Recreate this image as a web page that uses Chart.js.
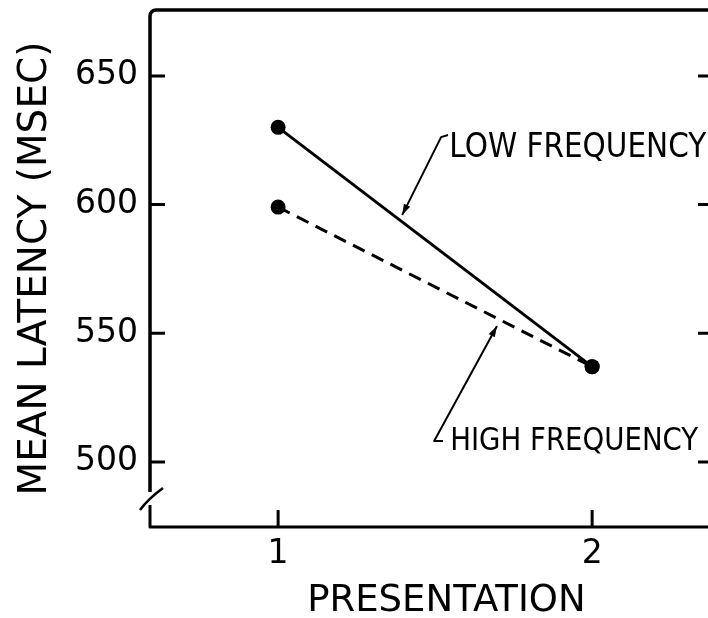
<!DOCTYPE html>
<html>
<head>
<meta charset="utf-8">
<script src="https://cdn.jsdelivr.net/npm/chart.js@4.4.1/dist/chart.umd.min.js"></script>
<style>
  html, body { margin: 0; padding: 0; background: #fff; overflow: hidden; }
  #wrap { width: 708px; height: 618px; }
</style>
</head>
<body>
<div id="wrap"><canvas id="c" width="708" height="618"></canvas></div>
<script>
// ---- data ----
const presentations = [1, 2];
const lowFrequency = [630, 537];
const highFrequency = [599, 537];
const yTickValues = [500, 550, 600, 650];
const xTickValues = [1, 2];
const xTickLabels = ['1', '2'];
const seriesNames = ['LOW FREQUENCY', 'HIGH FREQUENCY'];
const yTitle = 'MEAN LATENCY (MSEC)';
const xTitle = 'PRESENTATION';

// ---- annotation placement (data units) ----
const annotations = [
  { text: seriesNames[0], textAt: [1.545, 622.0], width: 257, size: 33,
    leader: [[1.395, 595.9], [1.519, 626.2], [1.541, 627.0]] },
  { text: seriesNames[1], textAt: [1.548, 507.7], width: 248, size: 32,
    leader: [[1.697, 552.8], [1.497, 508.1], [1.525, 508.1]] }
];
// x-axis title placement: centre in x data units, offset below the axis in px
const xTitlePlace = { at: 1.536, below: 74, size: 37, width: 287 };

const FONT = '"DejaVu Sans", "Liberation Sans", sans-serif';

const framePlugin = {
  id: 'frame',
  afterDraw(chart) {
    const { ctx, chartArea: a, scales: { x, y } } = chart;
    ctx.save();
    ctx.strokeStyle = '#000';
    ctx.fillStyle = '#000';
    ctx.lineCap = 'butt';
    ctx.lineJoin = 'round';
    ctx.lineWidth = 3.5;
    ctx.beginPath();
    ctx.moveTo(a.left, a.bottom - 35);
    ctx.lineTo(a.left, a.top + 6);
    ctx.arcTo(a.left, a.top, a.left + 6, a.top, 6);
    ctx.lineTo(a.right + 5, a.top);
    ctx.stroke();
    ctx.lineWidth = 3;
    ctx.beginPath();
    ctx.moveTo(a.left, a.bottom - 22);
    ctx.lineTo(a.left, a.bottom);
    ctx.lineTo(a.right + 5, a.bottom);
    ctx.stroke();
    ctx.lineWidth = 2.5;
    ctx.beginPath();
    ctx.moveTo(a.left - 10, a.bottom - 17);
    ctx.quadraticCurveTo(a.left - 2, a.bottom - 28, a.left + 13, a.bottom - 39);
    ctx.stroke();
    ctx.lineWidth = 3;
    yTickValues.forEach(v => {
      const py = y.getPixelForValue(v);
      ctx.beginPath();
      ctx.moveTo(a.left, py); ctx.lineTo(a.left + 15, py);
      ctx.moveTo(a.right - 10, py); ctx.lineTo(a.right + 2, py);
      ctx.stroke();
    });
    xTickValues.forEach(v => {
      const px = x.getPixelForValue(v);
      ctx.beginPath();
      ctx.moveTo(px, a.bottom); ctx.lineTo(px, a.bottom - 17);
      ctx.stroke();
    });
    annotations.forEach(an => {
      const pts = an.leader.map(p => [x.getPixelForValue(p[0]), y.getPixelForValue(p[1])]);
      ctx.lineWidth = 2;
      ctx.beginPath();
      ctx.moveTo(pts[0][0], pts[0][1]);
      for (let i = 1; i < pts.length; i++) ctx.lineTo(pts[i][0], pts[i][1]);
      ctx.stroke();
      const dx = pts[0][0] - pts[1][0], dy = pts[0][1] - pts[1][1];
      const L = Math.hypot(dx, dy), ux = dx / L, uy = dy / L;
      const hl = 11, hw = 3.5;
      ctx.beginPath();
      ctx.moveTo(pts[0][0], pts[0][1]);
      ctx.lineTo(pts[0][0] - ux * hl - uy * hw, pts[0][1] - uy * hl + ux * hw);
      ctx.lineTo(pts[0][0] - ux * hl + uy * hw, pts[0][1] - uy * hl - ux * hw);
      ctx.closePath();
      ctx.fill();
      ctx.font = an.size + 'px ' + FONT;
      ctx.textAlign = 'left';
      ctx.textBaseline = 'middle';
      ctx.fillText(an.text, x.getPixelForValue(an.textAt[0]), y.getPixelForValue(an.textAt[1]), an.width);
    });
    ctx.font = xTitlePlace.size + 'px ' + FONT;
    ctx.textAlign = 'center';
    ctx.textBaseline = 'middle';
    ctx.fillText(xTitle, x.getPixelForValue(xTitlePlace.at), a.bottom + xTitlePlace.below, xTitlePlace.width);
    ctx.restore();
  }
};

const toPoints = vals => presentations.map((p, i) => ({ x: p, y: vals[i] }));

new Chart(document.getElementById('c'), {
  type: 'scatter',
  data: {
    datasets: [
      { label: seriesNames[0], data: toPoints(lowFrequency), showLine: true,
        borderColor: '#000', borderWidth: 3, pointRadius: 7.5, pointBorderWidth: 0,
        pointBackgroundColor: '#000' },
      { label: seriesNames[1], data: toPoints(highFrequency), showLine: true,
        borderColor: '#000', borderWidth: 3, borderDash: [13, 8], pointRadius: 7.5,
        pointBorderWidth: 0, pointBackgroundColor: '#000' }
    ]
  },
  options: {
    responsive: false,
    animation: false,
    devicePixelRatio: 1,
    layout: { autoPadding: false, padding: { top: 10, right: 0, left: 0, bottom: 0 } },
    plugins: { legend: { display: false }, tooltip: { enabled: false } },
    scales: {
      x: {
        type: 'linear', min: 0.592, max: 2.369,
        afterBuildTicks: s => { s.ticks = xTickValues.map(v => ({ value: v })); },
        afterFit: s => { s.height = 91; s.paddingLeft = 0; s.paddingRight = 0; },
        grid: { display: false, drawTicks: false },
        border: { display: false },
        ticks: { color: '#000', padding: 8, font: { family: FONT, size: 33 },
                 callback: (v) => xTickLabels[xTickValues.indexOf(v)] },
        title: { display: false, text: xTitle }
      },
      y: {
        type: 'linear', min: 474.7, max: 675.6,
        afterBuildTicks: s => { s.ticks = yTickValues.map(v => ({ value: v })); },
        afterFit: s => { s.width = 150; s.paddingTop = 0; s.paddingBottom = 0; },
        grid: { display: false, drawTicks: false },
        border: { display: false },
        ticks: { color: '#000', padding: 12, font: { family: FONT, size: 33 } },
        title: { display: true, text: yTitle, color: '#000',
                 font: { family: FONT, size: 39 }, padding: { top: 12, bottom: 0 } }
      }
    }
  },
  plugins: [framePlugin]
});
</script>
</body>
</html>
